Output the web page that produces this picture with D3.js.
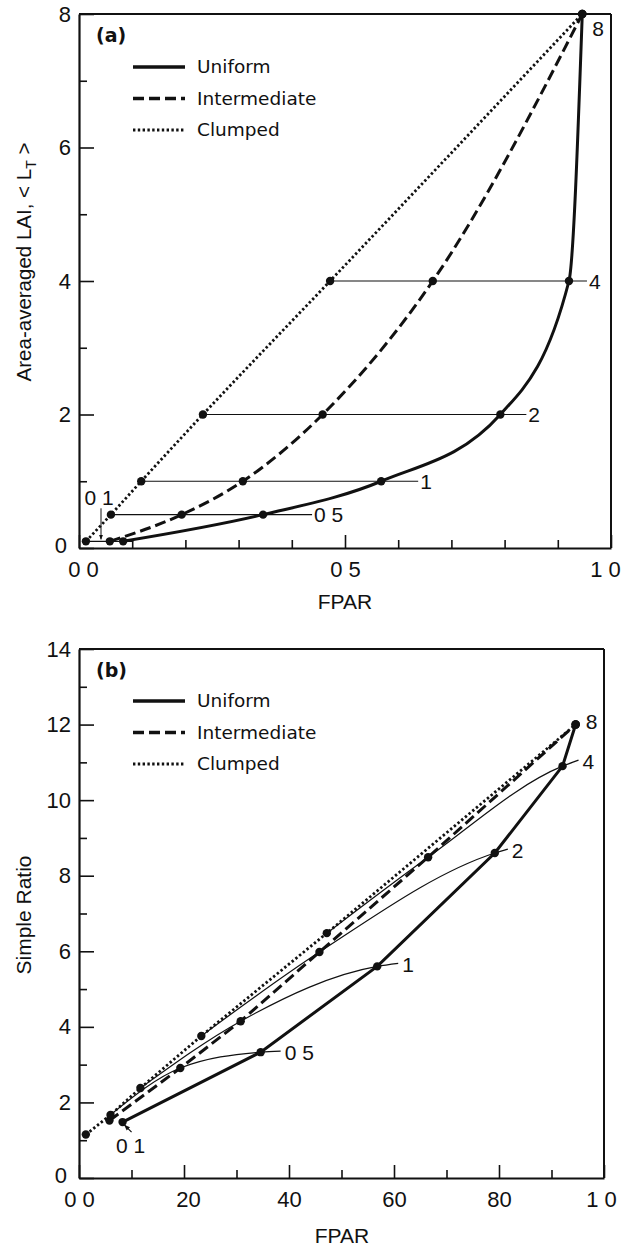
<!DOCTYPE html>
<html>
<head>
<meta charset="utf-8">
<script src="https://cdn.jsdelivr.net/npm/d3@7"></script>
<style>
  html, body { margin: 0; padding: 0; background: #fff; }
  svg { display: block; }
  .tick text { font-family: "Liberation Sans", Arial, sans-serif; font-size: 22px; fill: #111; }
</style>
</head>
<body>
<svg id="chart" width="636" height="1247"></svg>
<script>
// ---------------- DATA ----------------
const laiLevels = [0.1, 0.5, 1, 2, 4, 8];
const laiLabels = ["0 1", "0 5", "1", "2", "4", "8"];

// FPAR (fraction) at each LAI level
const fparUniform      = [0.083, 0.346, 0.568, 0.792, 0.921, 0.946];
const fparIntermediate = [0.058, 0.193, 0.308, 0.458, 0.665, 0.946];
const fparClumped      = [0.013, 0.060, 0.117, 0.233, 0.472, 0.946];

// Simple Ratio at each LAI level
const srUniform      = [1.48, 3.33, 5.60, 8.60, 10.90, 12.0];
const srIntermediate = [1.52, 2.91, 4.15, 5.98, 8.49, 12.0];
const srClumped      = [1.15, 1.67, 2.38, 3.76, 6.48, 12.0];

const seriesNames = ["Uniform", "Intermediate", "Clumped"];

// tick labels
const xTickValsA = [0, 0.5, 1];
const xTickLabelsA = ["0 0", "0 5", "1 0"];
const yTickValsA = [0, 2, 4, 6, 8];
const yTickLabelsA = ["0", "2", "4", "6", "8"];

const xTickValsB = [0, 0.2, 0.4, 0.6, 0.8, 1];
const xTickLabelsB = ["0 0", "20", "40", "60", "80", "1 0"];
const yTickValsB = [0, 2, 4, 6, 8, 10, 12, 14];
const yTickLabelsB = ["0", "2", "4", "6", "8", "10", "12", "14"];

// ---------------- DRAWING ----------------
const svg = d3.select("#chart");
svg.append("rect").attr("width", 636).attr("height", 1247).attr("fill", "#fff");

const styles = {
  Uniform:      { width: 3, dash: null },
  Intermediate: { width: 3, dash: "11,5" },
  Clumped:      { width: 2.8, dash: "2.4,2.4" }
};

svg.append("defs").append("marker")
  .attr("id", "arr").attr("viewBox", "0 0 10 10").attr("refX", 9).attr("refY", 5)
  .attr("markerWidth", 5).attr("markerHeight", 5).attr("orient", "auto-start-reverse")
  .append("path").attr("d", "M0,1 L10,5 L0,9 z").attr("fill", "#111");

function drawAxes(g, x, y, cfg) {
  const [x0, x1] = x.range();
  const [y0, y1] = y.range();
  // x major
  const ax = g.append("g").attr("transform", `translate(0,${y0})`)
    .call(d3.axisBottom(x).tickValues(cfg.xMajor).tickSizeInner(-cfg.xMajorLen).tickSizeOuter(0)
      .tickPadding(13).tickFormat((d, i) => cfg.xLabels[i]));
  ax.selectAll(".tick text").attr("dx", (d, i) => cfg.xLabelDx[i]);
  // x minor
  g.append("g").attr("transform", `translate(0,${y0})`)
    .call(d3.axisBottom(x).tickValues(cfg.xMinor).tickSizeInner(-8).tickSizeOuter(0).tickFormat(""))
    .select(".domain").remove();
  // y major
  const ay = g.append("g").attr("transform", `translate(${x0},0)`)
    .call(d3.axisLeft(y).tickValues(cfg.yMajor).tickSizeInner(-15).tickSizeOuter(0)
      .tickPadding(8).tickFormat((d, i) => cfg.yLabels[i]));
  ay.selectAll(".tick text").attr("dx", (d, i) => (i === 0 ? -4 : 0)).attr("dy", (d, i) => (i === 0 ? "0.2em" : "0.32em"));
  g.append("g").attr("transform", `translate(${x0},0)`)
    .call(d3.axisLeft(y).tickValues(cfg.yMinor).tickSizeInner(-8).tickSizeOuter(0).tickFormat(""))
    .select(".domain").remove();
  g.selectAll(".domain").attr("stroke", "#111").attr("stroke-width", 2.2);
  g.selectAll(".tick line").attr("stroke", "#111").attr("stroke-width", 1.6);
  // box top/right
  g.append("line").attr("x1", x0).attr("x2", x1).attr("y1", y1).attr("y2", y1)
    .attr("stroke", "#111").attr("stroke-width", 1.8);
  g.append("line").attr("x1", x1).attr("x2", x1).attr("y1", y1).attr("y2", y0)
    .attr("stroke", "#111").attr("stroke-width", 2);
}

function drawLegend(g, yTop) {
  seriesNames.forEach((name, i) => {
    const yy = yTop + i * 31.5;
    const s = styles[name];
    g.append("line").attr("x1", 133).attr("x2", 185).attr("y1", yy).attr("y2", yy)
      .attr("stroke", "#111").attr("stroke-width", s.width + 0.4)
      .attr("stroke-dasharray", s.dash);
    g.append("text").attr("x", 197).attr("y", yy).attr("dy", "0.35em")
      .attr("font-family", "DejaVu Sans, sans-serif").attr("font-size", 18.5)
      .attr("fill", "#111").text(name);
  });
}

function drawSeries(g, x, y, fpars, vals, curve) {
  const line = d3.line().x(d => x(d[0])).y(d => y(d[1])).curve(curve);
  const sets = { Uniform: fpars[0], Intermediate: fpars[1], Clumped: fpars[2] };
  const vsets = { Uniform: vals[0], Intermediate: vals[1], Clumped: vals[2] };
  seriesNames.forEach(name => {
    const pts = sets[name].map((f, i) => [f, vsets[name][i]]);
    const s = styles[name];
    g.append("path").attr("d", line(pts)).attr("fill", "none")
      .attr("stroke", "#111").attr("stroke-width", s.width)
      .attr("stroke-dasharray", s.dash);
  });
  seriesNames.forEach(name => {
    sets[name].forEach((f, i) => {
      g.append("circle").attr("cx", x(f)).attr("cy", y(vsets[name][i])).attr("r", 4.2)
        .attr("fill", "#111");
    });
  });
}

function label(g, xx, yy, txt, anchor) {
  g.append("text").attr("x", xx).attr("y", yy).attr("dy", "0.36em")
    .attr("text-anchor", anchor || "start")
    .attr("font-family", "Liberation Sans, Arial, sans-serif").attr("font-size", 21)
    .attr("fill", "#111").text(txt);
}

// ================= Panel (a) =================
const xA = d3.scaleLinear().domain([0, 1]).range([79, 611]);
const yA = d3.scaleLinear().domain([0, 8]).range([548, 14]);
const gA = svg.append("g");

// iso-LAI connector lines (horizontal), drawn thin under curves
const extA = [10, 49, 37, 26, 18]; // pixel extension beyond the uniform point
laiLevels.slice(0, 5).forEach((L, i) => {
  const xs = xA(fparClumped[i]);
  const xe = xA(fparUniform[i]) + extA[i];
  gA.append("line").attr("x1", xs).attr("x2", xe).attr("y1", yA(L)).attr("y2", yA(L))
    .attr("stroke", "#111").attr("stroke-width", 1.2);
  if (i > 0) label(gA, xe + 2, yA(L), laiLabels[i]);
});
// "0 1" label with arrow
label(gA, 99, yA(0.1) - 44, laiLabels[0], "middle");
gA.append("line").attr("x1", 101).attr("x2", 101).attr("y1", yA(0.1) - 33).attr("y2", yA(0.1) - 2)
  .attr("stroke", "#111").attr("stroke-width", 1).attr("marker-end", "url(#arr)");
// "8" label
label(gA, xA(fparUniform[5]) + 10, yA(8) + 14, laiLabels[5]);

drawAxes(gA, xA, yA, {
  xMajor: xTickValsA, xLabels: xTickLabelsA, xMajorLen: 13, xLabelDx: [4, 0, -6],
  xMinor: [0.1, 0.2, 0.3, 0.4, 0.6, 0.7, 0.8, 0.9],
  yMajor: yTickValsA, yLabels: yTickLabelsA, yMinor: [1, 3, 5, 7]
});
drawSeries(gA, xA, yA, [fparUniform, fparIntermediate, fparClumped],
  [laiLevels, laiLevels, laiLevels], d3.curveMonotoneX);

gA.append("text").attr("x", 96).attr("y", 35).attr("dy", "0.35em")
  .attr("font-family", "DejaVu Sans, sans-serif").attr("font-weight", "bold")
  .attr("font-size", 19).attr("fill", "#111").text("(a)");
drawLegend(gA, 67);

// axis titles (a)
gA.append("text").attr("x", 345).attr("y", 609).attr("text-anchor", "middle")
  .attr("font-family", "Liberation Sans, Arial, sans-serif").attr("font-size", 21)
  .attr("fill", "#111").text("FPAR");
const ytA = gA.append("text").attr("transform", "translate(31,262) rotate(-90)")
  .attr("text-anchor", "middle")
  .attr("font-family", "Liberation Sans, Arial, sans-serif").attr("font-size", 20.5)
  .attr("fill", "#111");
ytA.append("tspan").text("Area-averaged LAI, < L");
ytA.append("tspan").attr("font-size", 14).attr("dy", 5).text("T");
ytA.append("tspan").attr("dy", -5).text(" >");

// ================= Panel (b) =================
const xB = d3.scaleLinear().domain([0, 1]).range([79, 604]);
const yB = d3.scaleLinear().domain([0, 14]).range([1178, 649]);
const gB = svg.append("g");

// iso-LAI connector curves through clumped -> intermediate -> uniform
const extB = [[0, 0], [20, -1], [21, -3], [13, -4], [16, -6]];
const conn = d3.line().curve(d3.curveMonotoneX);
laiLevels.slice(1, 5).forEach((L, j) => {
  const i = j + 1;
  const p = [
    [xB(fparClumped[i]), yB(srClumped[i])],
    [xB(fparIntermediate[i]), yB(srIntermediate[i])],
    [xB(fparUniform[i]), yB(srUniform[i])]
  ];
  const end = [p[2][0] + extB[i][0], p[2][1] + extB[i][1]];
  gB.append("path").attr("d", conn([...p, end])).attr("fill", "none")
    .attr("stroke", "#111").attr("stroke-width", 1.2);
  label(gB, end[0] + 4, end[1] + 1, laiLabels[i]);
});
// "0 1" label with arrow to uniform 0.1 point
label(gB, xB(fparUniform[0]) + 8, yB(srUniform[0]) + 23, laiLabels[0], "middle");
gB.append("line").attr("x1", xB(fparUniform[0]) + 9).attr("y1", yB(srUniform[0]) + 10)
  .attr("x2", xB(fparUniform[0]) + 2).attr("y2", yB(srUniform[0]) + 3)
  .attr("stroke", "#111").attr("stroke-width", 1.2).attr("marker-end", "url(#arr)");
// "8"
label(gB, xB(fparUniform[5]) + 10, yB(srUniform[5]) - 3, laiLabels[5]);

drawAxes(gB, xB, yB, {
  xMajor: xTickValsB, xLabels: xTickLabelsB, xMajorLen: 13, xLabelDx: [0, 4, 0, 0, 0, -3],
  xMinor: [0.1, 0.3, 0.5, 0.7, 0.9],
  yMajor: yTickValsB, yLabels: yTickLabelsB, yMinor: [1, 3, 5, 7, 9, 11, 13]
});
drawSeries(gB, xB, yB, [fparUniform, fparIntermediate, fparClumped],
  [srUniform, srIntermediate, srClumped], d3.curveLinear);

gB.append("text").attr("x", 96).attr("y", 670).attr("dy", "0.35em")
  .attr("font-family", "DejaVu Sans, sans-serif").attr("font-weight", "bold")
  .attr("font-size", 19).attr("fill", "#111").text("(b)");
drawLegend(gB, 701);

gB.append("text").attr("x", 342).attr("y", 1243).attr("text-anchor", "middle")
  .attr("font-family", "Liberation Sans, Arial, sans-serif").attr("font-size", 21)
  .attr("fill", "#111").text("FPAR");
gB.append("text").attr("transform", "translate(31,915) rotate(-90)")
  .attr("text-anchor", "middle")
  .attr("font-family", "Liberation Sans, Arial, sans-serif").attr("font-size", 21)
  .attr("fill", "#111").text("Simple Ratio");
</script>
</body>
</html>
